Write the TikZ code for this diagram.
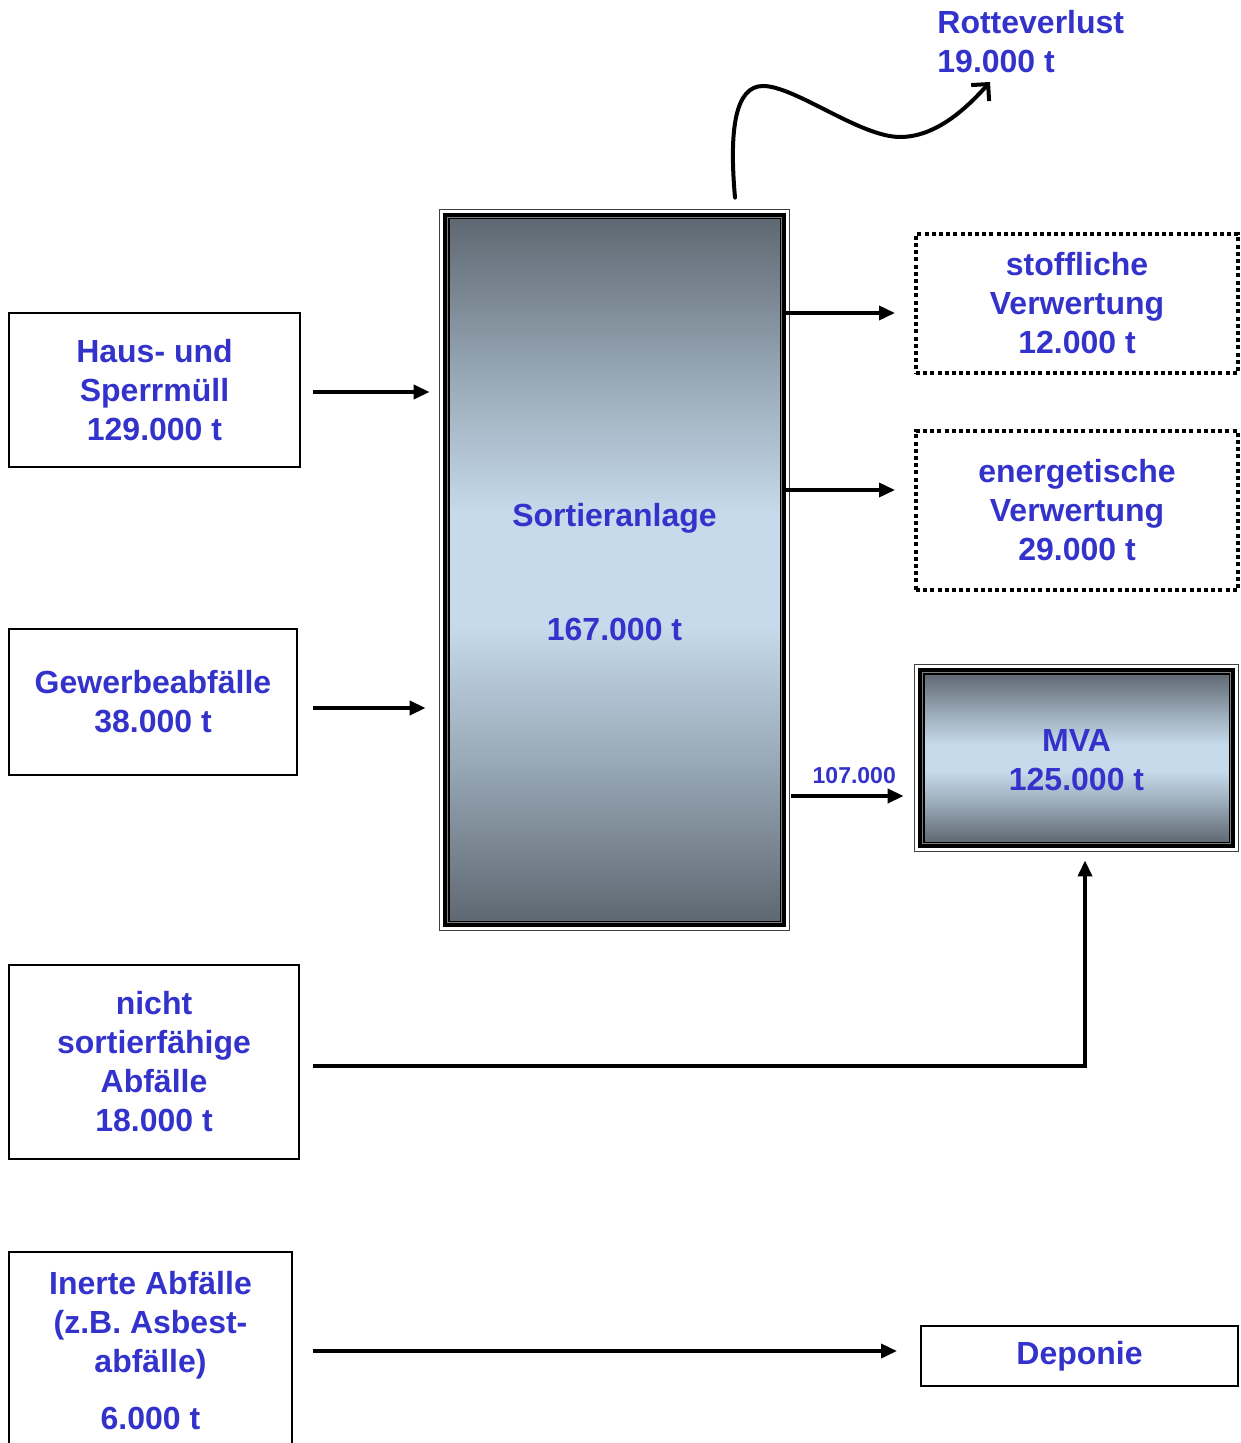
\documentclass[tikz,border=0pt]{standalone}
\usepackage{fontspec}
\setmainfont{Liberation Sans}
\usetikzlibrary{arrows.meta,calc}
\definecolor{txt}{HTML}{3333CC}
\definecolor{darkfill}{HTML}{5E6872}
\definecolor{lightfill}{HTML}{C6DAEB}
\pgfdeclareverticalshading{metalfill}{100bp}{color(0bp)=(darkfill); color(25bp)=(darkfill); color(36bp)=(darkfill!45!lightfill); color(46bp)=(lightfill); color(54bp)=(lightfill); color(64bp)=(darkfill!45!lightfill); color(75bp)=(darkfill); color(100bp)=(darkfill)}
\newcommand\fancyframe[1]{%
  \shade[shading=metalfill]
    ($(#1.north west)+(4.5pt,-4.5pt)$) rectangle ($(#1.south east)+(-4.5pt,4.5pt)$);
  \draw[line width=0.6pt, black!75] (#1.north west) rectangle (#1.south east);
  \draw[line width=2.2pt] ($(#1.north west)+(2.6pt,-2.6pt)$) rectangle ($(#1.south east)+(-2.6pt,2.6pt)$);
  \draw[line width=0.6pt, gray] ($(#1.north west)+(3.9pt,-3.9pt)$) rectangle ($(#1.south east)+(-3.9pt,3.9pt)$);
  \draw[line width=0.7pt] ($(#1.north west)+(4.6pt,-4.6pt)$) rectangle ($(#1.south east)+(-4.6pt,4.6pt)$);
}
\begin{document}
\begin{tikzpicture}[x=0.5pt,y=-0.5pt,
  every node/.style={text=txt, font=\fontsize{16pt}{19.5pt}\selectfont\bfseries, align=center},
  box/.style={draw, line width=1pt, inner sep=0pt},
  dotbox/.style={draw, line width=2pt, dash pattern=on 2pt off 1.6pt, inner sep=0pt},
  arr/.style={line width=1.8pt, -{Triangle[length=8pt,width=7pt]}},
  wavy/.style={line width=2pt, line cap=round, -{Straight Barb[length=6pt,width=12pt]}},
  small/.style={font=\fontsize{11.5pt}{14pt}\selectfont\bfseries}
]
\useasboundingbox (0,0) rectangle (1240,1443);

% left boxes
\node[box, minimum width=145.5pt, minimum height=77pt] (haus) at (154.5,390) {Haus- und\\Sperrmüll\\129.000 t};
\node[box, minimum width=144pt, minimum height=73pt] (gew) at (153,702) {Gewerbeabfälle\\38.000 t};
\node[box, minimum width=145pt, minimum height=97pt] (nicht) at (154,1062) {nicht\\sortierfähige\\Abfälle\\18.000 t};
\node[box, minimum width=141.5pt, minimum height=99pt] (inert) at (150.5,1351) {Inerte Abfälle\\(z.B. Asbest-\\abfälle)\\[9pt]6.000 t};

% Sortieranlage
\node[minimum width=174.5pt, minimum height=360pt, inner sep=0pt] (sort) at (614.5,570) {};
\fancyframe{sort}
\node (sortlbl) at ($(sort.center)+(0,-1pt)$) {Sortieranlage\\[37.5pt]167.000 t};

% right boxes
\node[dotbox, minimum width=161pt, minimum height=69.5pt] (stoff) at (1077,303.5) {stoffliche\\Verwertung\\12.000 t};
\node[dotbox, minimum width=161pt, minimum height=79.5pt] (energ) at (1077,510.5) {energetische\\Verwertung\\29.000 t};
\node[minimum width=161.5pt, minimum height=93pt, inner sep=0pt] (mva) at (1076.5,758) {};
\fancyframe{mva}
\node (mvalbl) at ($(mva.center)+(0,-1pt)$) {MVA\\125.000 t};
\node[box, minimum width=158.5pt, minimum height=30pt] (dep) at (1079.5,1356) {Deponie};

\node[anchor=north west, align=left, inner sep=0pt] (rotte) at (937,10) {Rotteverlust\\19.000 t};
\coordinate (rtip) at (990,82);

% arrows
\draw[arr] ($(haus.east)+(6pt,-1pt)$) -- ($(haus.east -| sort.west)+(-5pt,-1pt)$);
\draw[arr] ($(gew.east)+(7.5pt,-3pt)$) -- ($(gew.east -| sort.west)+(-7pt,-3pt)$);
\draw[arr] ($(stoff.west -| sort.east)+(-2pt,-4.75pt)$) -- ($(stoff.west)+(-9.5pt,-4.75pt)$);
\draw[arr] ($(energ.west -| sort.east)+(-2pt,10.25pt)$) -- ($(energ.west)+(-9.5pt,10.25pt)$);
\draw[arr] ($(mva.west -| sort.east)+(1pt,-19pt)$) -- node[small, pos=0.56, above, yshift=2pt] (lbl107) {107.000} ($(mva.west)+(-5.5pt,-19pt)$);
\draw[arr] ($(nicht.east)+(6.5pt,-2pt)$) -| ($(mva.south)+(4.25pt,-4.5pt)$);
\draw[arr] ($(inert.east)+(10pt,0pt)$) -- ($(inert.east -| dep.west)+(-11.5pt,0pt)$);

\draw[wavy] ($(sort.north)+(60.25pt,6pt)$) .. controls (729,130) and (735,86) .. (763,86)
  .. controls (795,86) and (860,137) .. (900,137)
  .. controls (935,137) and (965,110) .. (rtip);
\end{tikzpicture}
\end{document}
